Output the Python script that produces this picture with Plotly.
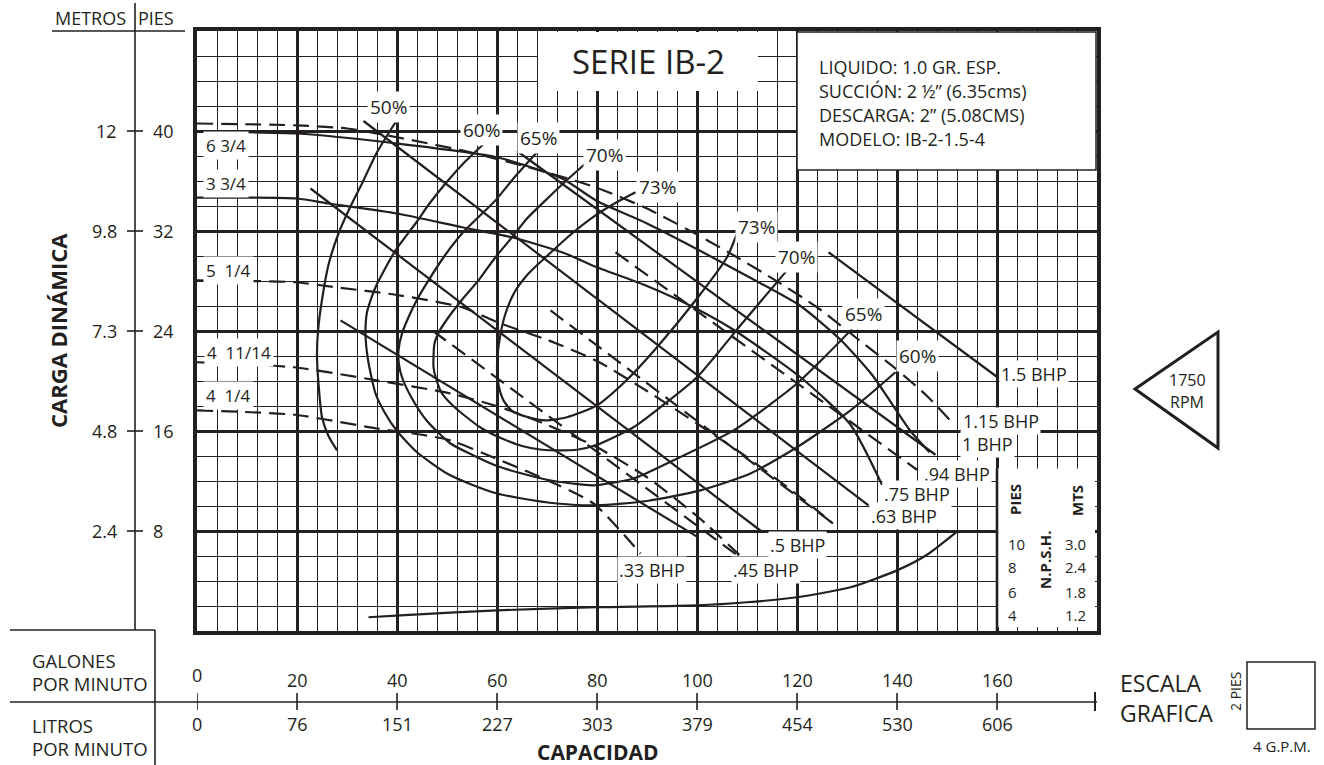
import plotly.graph_objects as go

INK = "#231f20"
FONT = "Open Sans"

# ---------------- axis data ----------------
gpm_ticks = [0, 20, 40, 60, 80, 100, 120, 140, 160]
gpm_labels = ["0", "20", "40", "60", "80", "100", "120", "140", "160"]
lpm_labels = ["0", "76", "151", "227", "303", "379", "454", "530", "606"]
ft_ticks = [40, 32, 24, 16, 8]
ft_labels = ["40", "32", "24", "16", "8"]
m_labels = ["12", "9.8", "7.3", "4.8", "2.4"]

# ---------------- head-capacity curves (GPM, ft) ----------------
h_top_q = [0, 20, 30, 40, 53, 66.3, 79.7, 90, 100.3, 108, 115.7, 124, 131.7, 140, 146, 150.5]
h_top_h = [40.6, 40.45, 40.2, 39.5, 38.45, 37.1, 35.5, 33.8, 31.65, 29.9, 28.05, 25.9, 23.5, 20.9, 18.8, 16.9]

h_634_q = [0, 20, 40, 60, 73, 80, 90, 100.7, 110, 120.7, 128.7, 135, 142.7, 146.5]
h_634_h = [39.95, 39.8, 39.0, 37.9, 36.2, 34.4, 32.6, 30.4, 28.4, 26.0, 23.3, 20.5, 16.0, 14.3]

h_334_q = [0, 20, 26.3, 40, 53, 63, 73, 80, 90, 99.3, 107.3, 120.7, 130.7, 137]
h_334_h = [34.67, 34.6, 34.2, 33.4, 32.3, 31.5, 30.3, 29.1, 27.6, 25.9, 24.1, 20.3, 16.5, 11.7]

h_514_q = [0, 19.7, 27.7, 39.7, 53, 60.7, 70, 80, 90, 100, 110, 120.7, 127.2]
h_514_h = [28.05, 27.9, 27.5, 26.9, 25.9, 24.6, 23.3, 21.6, 19.2, 16.6, 13.9, 10.7, 8.6]

h_41114_q = [0, 19.3, 36, 50.7, 60.7, 70, 80, 90, 100, 110.3]
h_41114_h = [21.5, 21.1, 20.05, 19.0, 17.9, 16.5, 14.7, 12.3, 9.2, 5.4]

h_414_q = [0, 19.5, 36, 45, 50.7, 60.7, 69.3, 79.3, 88.7]
h_414_h = [17.65, 17.3, 16.2, 15.7, 15.25, 13.65, 12.2, 10.2, 6.2]

# ---------------- BHP lines ----------------
bhp150_q = [126.3, 160.1]
bhp150_h = [30.3, 20.3]
bhp100_q = [64, 147.7]
bhp100_h = [38.4, 14.1]
bhp063s_q = [33.3, 134.3]
bhp063s_h = [40.8, 10.05]
bhp050_q = [22.7, 112.8]
bhp050_h = [35.4, 8.0]
bhp_s3_q = [28.7, 100]
bhp_s3_h = [24.85, 7.55]
bhp094_q = [83.7, 144]
bhp094_h = [30.3, 12.9]
bhp063d_q = [70.7, 127.2]
bhp063d_h = [25.65, 8.6]
bhp045_q = [47.2, 110.3]
bhp045_h = [24.0, 5.4]

# ---------------- efficiency curves ----------------
eff50_q = [39.7, 36, 33, 30.5, 28.3, 26.3, 25, 24.2, 24, 24.3, 25, 26.3, 28]
eff50_h = [40.7, 38.3, 35.8, 33.8, 31.8, 29.3, 26.5, 24, 22, 19.8, 17.1, 15.6, 14.45]

eff60_q = [57.7, 53.5, 49.7, 46.5, 43.7, 39.7, 35.7, 34, 33.7, 34.2, 35.7, 37.5, 40, 44, 50, 55, 60, 65, 72, 80, 90, 100.7, 110.7, 120, 130.7, 139.7]
eff60_h = [39.1, 37.5, 35.8, 34.2, 32.6, 30.45, 27.5, 25.5, 23.8, 21.7, 19, 17.5, 16, 14.3, 12.6, 11.7, 11.0, 10.6, 10.2, 10.05, 10.4, 11.25, 12.6, 14.7, 17.65, 20.7]

eff65_q = [68, 63.5, 59.7, 56, 53, 49.5, 46.3, 44, 42.3, 41, 40.3, 40.4, 41, 43, 46, 50.7, 55, 60, 65, 70, 75, 79.3, 87.3, 95, 107.3, 120, 130.7, 132]
eff65_h = [38.3, 36.3, 34.45, 33, 31.8, 30, 28.05, 26.5, 25.1, 23.8, 22.45, 21.3, 20.3, 18.6, 16.8, 15.0, 14.1, 13.2, 12.6, 12.1, 11.8, 11.65, 12.2, 13.6, 16.05, 19.8, 24.05, 24.7]

eff70_q = [77.7, 73.5, 69.7, 66, 63, 59.5, 56.3, 53, 50.3, 48.5, 47.5, 47.3, 47.8, 49, 51, 53, 57, 61, 65, 69, 72.8, 76, 80, 87.3, 93, 100, 109, 118]
eff70_h = [37.4, 35.9, 34.45, 33, 31.5, 29.8, 28.05, 26.5, 25.1, 24, 23, 21.1, 20.2, 19, 18.1, 17.4, 16.2, 15.4, 14.8, 14.5, 14.45, 14.5, 14.9, 16.3, 18, 20.3, 24.6, 28.85]

eff73_q = [87.7, 83.5, 79.7, 75, 70, 66.3, 63.5, 61.7, 60.5, 60, 60.3, 61.3, 63, 66.3, 69.7, 74, 80, 86, 92, 100, 106, 108]
eff73_h = [35.1, 34.2, 33.25, 31.8, 30, 28.6, 27.1, 25.4, 23.3, 21.1, 19.7, 18.45, 17.6, 17.1, 16.85, 17.1, 18.05, 20.1, 22.7, 26.6, 29.9, 31.8]

npsh_q = [34.3, 40.7, 60, 80, 100, 110, 120, 130.7, 140, 146, 152.3]
npsh_h = [1.1, 1.25, 1.65, 1.9, 2.05, 2.3, 2.7, 3.5, 4.85, 6.1, 8.05]

# ---------------- labels inside plot ----------------
eff_label_text = ["50%", "60%", "65%", "70%", "73%", "73%", "70%", "65%", "60%"]
eff_label_q = [38.3, 56.9, 68.2, 81.5, 92.1, 111.9, 119.9, 133.3, 144.0]
eff_label_h = [41.9, 40.05, 39.45, 38.1, 35.5, 32.3, 29.9, 25.4, 22.0]

bhp_label_text = ["1.5 BHP", "1.15 BHP", "1 BHP", ".94 BHP", ".75 BHP", ".63 BHP", ".5 BHP", ".45 BHP", ".33 BHP"]
bhp_label_q = [167.3, 160.7, 158.1, 152.0, 144.0, 141.3, 120.1, 113.8, 90.9]
bhp_label_h = [20.6, 16.8, 15.0, 12.6, 11.0, 9.2, 6.9, 4.85, 4.85]

imp_label_text = ["6 3/4", "3 3/4", "5  1/4", "4  11/14", "4  1/4"]
imp_label_q = [5.7, 5.7, 6.3, 8.3, 6.3]
imp_label_h = [38.85, 35.8, 28.85, 22.3, 18.85]

npsh_ft_text = ["10", "8", "6", "4"]
npsh_m_text = ["3.0", "2.4", "1.8", "1.2"]
npsh_row_h = [7.0, 5.1, 3.1, 1.3]

spec_lines = ["LIQUIDO: 1.0 GR. ESP.", "SUCCIÓN: 2 ½” (6.35cms)", "DESCARGA: 2” (5.08CMS)", "MODELO: IB-2-1.5-4"]

# ---------------- figure ----------------
fig = go.Figure()

def add_line(q, h, dash="solid", width=2.2):
    fig.add_trace(go.Scatter(x=q, y=h, mode="lines", line=dict(color=INK, width=width, dash=dash, shape="spline", smoothing=0.6), hoverinfo="skip", showlegend=False))

DASH = "16px,8px"
for q, h in [(eff50_q, eff50_h), (eff60_q, eff60_h), (eff65_q, eff65_h), (eff70_q, eff70_h), (eff73_q, eff73_h)]:
    add_line(q, h)
for q, h in [(bhp150_q, bhp150_h), (bhp100_q, bhp100_h), (bhp063s_q, bhp063s_h), (bhp050_q, bhp050_h), (bhp_s3_q, bhp_s3_h)]:
    add_line(q, h)
for q, h in [(bhp094_q, bhp094_h), (bhp063d_q, bhp063d_h), (bhp045_q, bhp045_h)]:
    add_line(q, h, dash=DASH)
for q, h in [(h_634_q, h_634_h), (h_334_q, h_334_h)]:
    add_line(q, h)
for q, h in [(h_top_q, h_top_h), (h_514_q, h_514_h), (h_41114_q, h_41114_h), (h_414_q, h_414_h)]:
    add_line(q, h, dash=DASH)
add_line(npsh_q, npsh_h)

L, R, T, B = 197, 227, 31, 134
W, H = 1324, 765
PW, PH = W - L - R, H - T - B

def xp(px):
    return (px - L) / PW

def yp(py):
    return (H - B - py) / PH

shapes = []
annots = []

def txt(x, y, s, size=18, xref="paper", yref="paper", bold=False, angle=0, xanchor="center", yanchor="middle", bg=None, pad=1):
    a = dict(x=x, y=y, xref=xref, yref=yref, text=("<b>%s</b>" % s) if bold else s, showarrow=False,
             font=dict(family=FONT, size=size, color=INK), xanchor=xanchor, yanchor=yanchor, textangle=angle)
    if bg:
        a["bgcolor"] = bg
        a["borderpad"] = pad
    annots.append(a)

def pline(x0, y0, x1, y1, w=1.6, xref="paper", yref="paper"):
    shapes.append(dict(type="line", x0=x0, y0=y0, x1=x1, y1=y1, xref=xref, yref=yref, line=dict(color=INK, width=w), layer="above"))

# title box and spec box (white, cover grid)
shapes.append(dict(type="rect", xref="paper", yref="paper", x0=xp(538), x1=xp(758), y0=yp(91), y1=yp(32), fillcolor="white", line=dict(width=0), layer="above"))
txt(xp(648), yp(61), "SERIE IB-2", size=33)
shapes.append(dict(type="rect", xref="paper", yref="paper", x0=xp(797), x1=xp(1096), y0=yp(170), y1=yp(32), fillcolor="white", line=dict(color=INK, width=1.5), layer="above"))
for i, s in enumerate(spec_lines):
    txt(xp(817), yp(67 + 24 * i), s, size=18, xanchor="left")

# NPSH table box
shapes.append(dict(type="rect", xref="x", yref="y", x0=160, x1=179.6, y0=0.3, y1=13.0, fillcolor="white", line=dict(width=0), layer="above"))
pline(160, 0, 160, 13, w=2.6, xref="x", yref="y")
txt(xp(1015), yp(500), "PIES", size=15, bold=True, angle=-90)
txt(xp(1077), yp(501), "MTS", size=15, bold=True, angle=-90)
txt(xp(1045), yp(560), "N.P.S.H.", size=15, bold=True, angle=-90)
for s, m, hh in zip(npsh_ft_text, npsh_m_text, npsh_row_h):
    txt(xp(1006), hh, s, size=15, yref="y", xanchor="left")
    txt(xp(1063), hh, m, size=15, yref="y", xanchor="left")

# in-plot labels
for s, q, h in zip(eff_label_text, eff_label_q, eff_label_h):
    txt(q, h, s, size=19, xref="x", yref="y", bg="white", pad=2)
for s, q, h in zip(bhp_label_text, bhp_label_q, bhp_label_h):
    txt(q, h, s, size=18, xref="x", yref="y", bg="white", pad=1)
for s, q, h in zip(imp_label_text, imp_label_q, imp_label_h):
    txt(q, h, s, size=17, xref="x", yref="y", bg="white", pad=2)

# left head scale
pline(xp(135), yp(3), xp(135), yp(630))
pline(xp(52), yp(31), xp(185), yp(31))
txt(xp(90), yp(18), "METROS", size=18)
txt(xp(156), yp(18), "PIES", size=18)
for f, fl, ml in zip(ft_ticks, ft_labels, m_labels):
    shapes.append(dict(type="line", xref="paper", yref="y", x0=xp(127), x1=xp(143), y0=f, y1=f, line=dict(color=INK, width=1.6)))
    txt(xp(119), f, ml, size=18, yref="y", xanchor="right")
    txt(xp(151), f, fl, size=18, yref="y", xanchor="left")
txt(xp(58), yp(331), "CARGA DINÁMICA", size=22, bold=True, angle=-90)

# bottom capacity scale
pline(xp(10), yp(630), xp(155), yp(630))
pline(xp(155), yp(630), xp(155), yp(765))
pline(xp(10), yp(702), xp(1097), yp(702))
for g, gl, ll in zip(gpm_ticks, gpm_labels, lpm_labels):
    shapes.append(dict(type="line", xref="x", yref="paper", x0=g, x1=g, y0=yp(693), y1=yp(710), line=dict(color=INK, width=1.6)))
    txt(g, yp(675 if g == 0 else 680), gl, size=18, xref="x")
    txt(g, yp(724), ll, size=18, xref="x")
shapes.append(dict(type="line", xref="x", yref="paper", x0=179.6, x1=179.6, y0=yp(692), y1=yp(711), line=dict(color=INK, width=2)))
txt(xp(30), yp(660), "GALONES", size=18.5, xanchor="left")
txt(xp(30), yp(683), "POR MINUTO", size=18.5, xanchor="left")
txt(xp(30), yp(725), "LITROS", size=18.5, xanchor="left")
txt(xp(30), yp(748), "POR MINUTO", size=18.5, xanchor="left")
txt(xp(597), yp(752), "CAPACIDAD", size=21, bold=True)

# graphic scale
txt(xp(1118), yp(683), "ESCALA", size=23, xanchor="left")
txt(xp(1118), yp(713), "GRAFICA", size=23, xanchor="left")
txt(xp(1235), yp(692), "2 PIES", size=14, angle=-90)
shapes.append(dict(type="rect", xref="paper", yref="paper", x0=xp(1247), x1=xp(1315), y0=yp(729), y1=yp(662), line=dict(color=INK, width=1.5)))
txt(xp(1282), yp(746), "4 G.P.M.", size=15)

# RPM triangle
tri = "M %f,%f L %f,%f L %f,%f Z" % (xp(1135), yp(389), xp(1218), yp(332), xp(1218), yp(448))
shapes.append(dict(type="path", xref="paper", yref="paper", path=tri, line=dict(color=INK, width=3)))
txt(xp(1187), yp(380), "1750", size=16)
txt(xp(1187), yp(402), "RPM", size=16)

fig.update_layout(
    width=W, height=H, autosize=False,
    margin=dict(l=L, r=R, t=T, b=B, pad=0),
    paper_bgcolor="white", plot_bgcolor="white",
    showlegend=False,
    shapes=shapes, annotations=annots,
    xaxis=dict(range=[0, 180], dtick=20, tick0=0, showgrid=True, gridcolor=INK, gridwidth=3,
               minor=dict(dtick=4, tick0=0, showgrid=True, gridcolor=INK, gridwidth=1.3),
               showticklabels=False, ticks="", zeroline=False, showline=True, mirror=True, linecolor=INK, linewidth=4),
    yaxis=dict(range=[0, 48], dtick=8, tick0=0, showgrid=True, gridcolor=INK, gridwidth=3,
               minor=dict(dtick=2, tick0=0, showgrid=True, gridcolor=INK, gridwidth=1.3),
               showticklabels=False, ticks="", zeroline=False, showline=True, mirror=True, linecolor=INK, linewidth=4),
)

fig.write_html("out.html", config={"displayModeBar": False},
               post_script="document.body.style.margin='0px';document.body.style.padding='0px';")
